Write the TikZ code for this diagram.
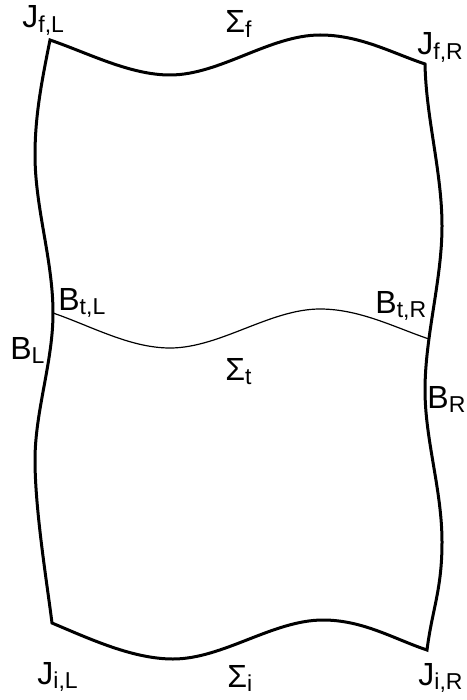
\documentclass[tikz,border=0pt]{standalone}
\usepackage{fontspec}
\setmainfont{Liberation Sans}
\usetikzlibrary{positioning}
\newcommand{\sublbl}[2]{#1\raisebox{-2.3pt}{\fontsize{11.5}{12}\selectfont #2}}

\begin{document}
\begin{tikzpicture}[
        x = 0.5pt, y = -0.5pt,
        edge/.style = {line width=1.5pt, line join=miter},
        slice/.style = {line width=0.6pt},
        lbl/.style = {inner sep=0pt, anchor=base west, font=\fontsize{16}{18}\selectfont},
    ]
        \useasboundingbox (0,0) rectangle (466,700);
        \coordinate (fL) at (50,40);
        \coordinate (fR) at (425,64);
        \coordinate (iL) at (52,623);
        \coordinate (iR) at (427,650);
        \coordinate (tL) at (53,313);
        \coordinate (tR) at (429,339);

        \draw[edge] (fL) .. controls (88,53) and (130,75) .. (170,75)
            .. controls (220,75) and (270,35) .. (320,35)
            .. controls (360,35) and (392,53) .. (fR)
            .. controls (426,118) and (442,172) .. (442,226)
            .. controls (442,280) and (425,336) .. (425,390)
            .. controls (425,440) and (442,490) .. (442,542)
            .. controls (442,590) and (432,610) .. (iR)
            .. controls (394,639) and (363,620) .. (323,620)
            .. controls (273,620) and (223,659) .. (173,659)
            .. controls (133,659) and (90,639) .. (iL)
            .. controls (47,583) and (35,510) .. (35,460)
            .. controls (35,411) and (53,362) .. (53,313)
            .. controls (53,260) and (35,208) .. (35,155)
            .. controls (35,115) and (42,80) .. (fL) -- cycle;

        \draw[slice] (tL) .. controls (91,326) and (130,348) .. (170,348)
            .. controls (220,348) and (270,309) .. (320,309)
            .. controls (360,309) and (396,328) .. (tR);

        \node[lbl] (jfl) at (22,28) {\sublbl{J}{f,L}};
        \node[lbl] (sf) at (225,33) {\sublbl{Σ}{f}};
        \node[lbl] (jfr) at (417,55) {\sublbl{J}{f,R}};
        \node[lbl] (btl) at (58,310) {\sublbl{B}{t,L}};
        \node[lbl] (bl) at (10,359) {\sublbl{B}{L}};
        \node[lbl] (st) at (225,380) {\sublbl{Σ}{t}};
        \node[lbl] (btr) at (375,313) {\sublbl{B}{t,R}};
        \node[lbl] (br) at (427,408) {\sublbl{B}{R}};
        \node[lbl] (jil) at (37,684) {\sublbl{J}{i,L}};
        \node[lbl] (si) at (227,687) {\sublbl{Σ}{i}};
        \node[lbl] (jir) at (418,685) {\sublbl{J}{i,R}};
    \end{tikzpicture}
\end{document}
